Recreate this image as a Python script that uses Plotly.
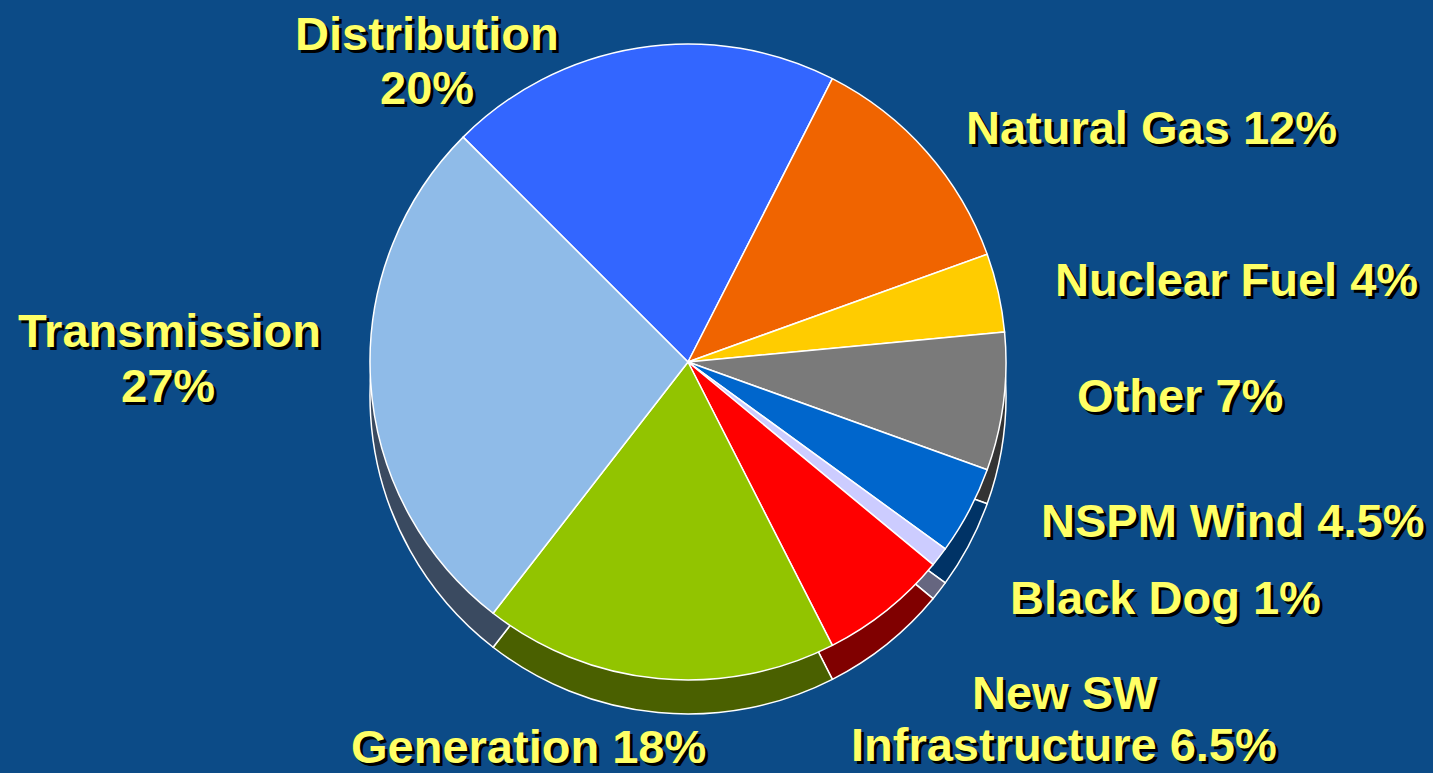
import plotly.graph_objects as go

# ---- data ----
categories = ["Distribution", "Natural Gas", "Nuclear Fuel", "Other", "NSPM Wind",
              "Black Dog", "New SW Infrastructure", "Generation", "Transmission"]
shares = [20, 12, 4, 7, 4.5, 1, 6.5, 18, 27]
label_lines = [
    ["Distribution", "20%"],
    ["Natural Gas 12%"],
    ["Nuclear Fuel 4%"],
    ["Other 7%"],
    ["NSPM Wind 4.5%"],
    ["Black Dog 1%"],
    ["New SW", "Infrastructure 6.5%"],
    ["Generation 18%"],
    ["Transmission", "27%"],
]

# ---- styles ----
top_colors = ["#3366ff", "#f06400", "#ffcc00", "#7a7a7a", "#0066cc",
              "#ccccff", "#ff0000", "#92c400", "#8fbbe8"]
side_colors = ["#1a2e80", "#6e2a00", "#806600", "#333333", "#003366",
               "#666680", "#800000", "#4a6000", "#3a4a60"]

W, H = 1433, 773
cx, cy, r, depth = 688, 362, 318, 34

def dom(cx_, cy_, r_):
    return dict(x=[(cx_ - r_) / W, (cx_ + r_) / W],
                y=[1 - (cy_ + r_) / H, 1 - (cy_ - r_) / H])

fig = go.Figure()
# side (depth) of the pie
fig.add_trace(go.Pie(
    labels=categories, values=shares, sort=False, direction="clockwise",
    rotation=-45, domain=dom(cx, cy + depth, r),
    marker=dict(colors=side_colors, line=dict(color="white", width=1.5)),
    textinfo="none", hoverinfo="skip", showlegend=False,
))
# top face
fig.add_trace(go.Pie(
    labels=categories, values=shares, sort=False, direction="clockwise",
    rotation=-45, domain=dom(cx, cy, r),
    marker=dict(colors=top_colors, line=dict(color="white", width=1.5)),
    textinfo="none", hoverinfo="label+percent", showlegend=False,
))

# label positions (pixel centres) for each text line
label_pos = [
    [(427, 33), (427, 88)],
    [(1151, 128)],
    [(1236, 280)],
    [(1180, 395)],
    [(1232, 520)],
    [(1165, 597)],
    [(1065, 692), (1064, 744)],
    [(528, 746)],
    [(169, 330), (168, 385)],
]

font = dict(family="Liberation Sans, Arial, sans-serif", size=47, color="#ffff66",
            weight="bold", shadow="3px 3px 0px #000000")
for lines, poss in zip(label_lines, label_pos):
    for txt, (px, py) in zip(lines, poss):
        fig.add_annotation(x=px / W, y=1 - py / H, xref="paper", yref="paper",
                           text=txt, showarrow=False, font=font,
                           xanchor="center", yanchor="middle")

fig.update_layout(
    width=W, height=H,
    margin=dict(l=0, r=0, t=0, b=0),
    paper_bgcolor="#0c4b87",
    plot_bgcolor="#0c4b87",
)

fig.write_html(
    "out.html",
    config={"displayModeBar": False},
    post_script="document.body.style.margin='0';document.body.style.overflow='hidden';"
                "document.body.style.background='#0c4b87';",
)
